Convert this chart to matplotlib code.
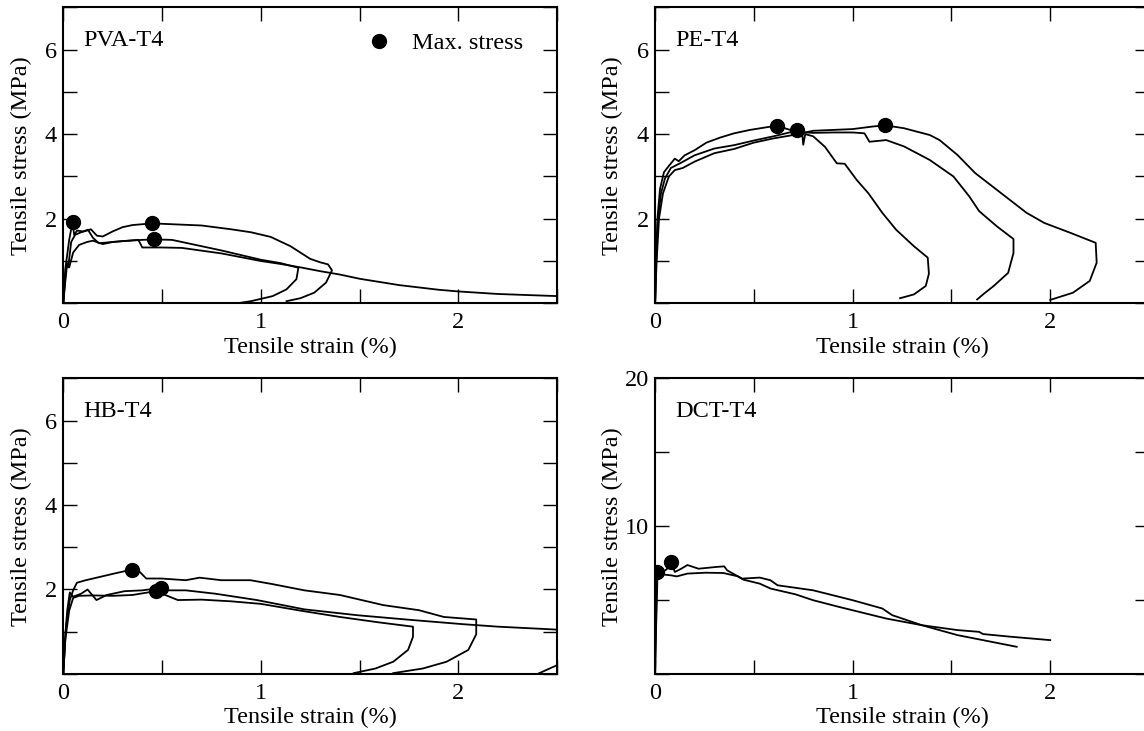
"""
Tensile stress-strain curves for the four T4 specimen series
"""

import numpy as np
import matplotlib.pyplot as plt
from matplotlib import rcParams
from matplotlib.ticker import MultipleLocator, FuncFormatter

rcParams["font.family"] = ["Liberation Serif", "DejaVu Serif"]
rcParams["font.size"] = 17.5
rcParams["axes.linewidth"] = 1.5
rcParams["lines.linewidth"] = 1.3
rcParams["xtick.direction"] = "in"
rcParams["ytick.direction"] = "in"
rcParams["xtick.top"] = True
rcParams["ytick.right"] = True
rcParams["xtick.major.size"] = 10
rcParams["ytick.major.size"] = 10
rcParams["xtick.major.width"] = 1.0
rcParams["ytick.major.width"] = 1.0
rcParams["xtick.major.pad"] = 6.5
rcParams["ytick.major.pad"] = 4.5

# ---- PVA-T4 ----
pva_strain_1 = [0, 0.01, 0.03, 0.047, 0.055, 0.07, 0.1, 0.125, 0.15, 0.18, 0.25,
                0.3, 0.38, 0.40, 0.5, 0.6, 0.8, 1.0, 1.1, 1.2, 1.3, 1.4, 1.5,
                1.7, 1.9, 2.0, 2.2, 2.5]
pva_stress_1 = [0, 0.8, 1.5, 1.93, 1.62, 1.72, 1.70, 1.74, 1.55, 1.42, 1.45,
                1.47, 1.50, 1.32, 1.32, 1.31, 1.18, 1.0, 0.93, 0.85, 0.76, 0.68,
                0.58, 0.43, 0.32, 0.28, 0.22, 0.17]
pva_strain_2 = [0, 0.015, 0.025, 0.04, 0.06, 0.09, 0.12, 0.14, 0.17, 0.2, 0.25,
                0.3, 0.35, 0.45, 0.55, 0.7, 0.85, 0.95, 1.05, 1.15, 1.2, 1.25,
                1.3, 1.34, 1.36, 1.33, 1.27, 1.2, 1.13]
pva_stress_2 = [0, 0.9, 0.85, 1.45, 1.62, 1.68, 1.72, 1.75, 1.6, 1.58, 1.7,
                1.8, 1.85, 1.89, 1.87, 1.84, 1.75, 1.68, 1.57, 1.35, 1.2, 1.05,
                0.97, 0.92, 0.78, 0.49, 0.25, 0.12, 0.05]
pva_strain_3 = [0, 0.01, 0.02, 0.03, 0.05, 0.08, 0.12, 0.15, 0.2, 0.25, 0.3,
                0.4, 0.46, 0.55, 0.65, 0.8, 1.0, 1.1, 1.19, 1.18, 1.13, 1.06,
                0.95, 0.88]
pva_stress_3 = [0, 0.5, 0.95, 0.85, 1.2, 1.38, 1.45, 1.48, 1.4, 1.45, 1.47,
                1.5, 1.51, 1.5, 1.4, 1.25, 1.03, 0.95, 0.84, 0.57, 0.33, 0.17,
                0.05, 0.0]

# ---- PE-T4 ----
pe_strain_1 = [0, 0.005, 0.012, 0.025, 0.045, 0.07, 0.1, 0.12, 0.15, 0.2, 0.26,
               0.33, 0.4, 0.48, 0.56, 0.616, 0.67, 0.72, 0.8, 0.9, 1.0, 1.06,
               1.085, 1.17, 1.26, 1.39, 1.51, 1.59, 1.64, 1.73, 1.814, 1.814,
               1.787, 1.714, 1.66, 1.63]
pe_stress_1 = [0, 1.0, 2.0, 2.7, 3.1, 3.25, 3.42, 3.36, 3.5, 3.62, 3.8,
               3.92, 4.02, 4.1, 4.16, 4.20, 4.12, 4.05, 4.03, 4.04, 4.04, 4.02,
               3.82, 3.86, 3.71, 3.39, 3.0, 2.53, 2.18, 1.82, 1.52, 1.19,
               0.72, 0.41, 0.21, 0.09]
pe_strain_2 = [0, 0.006, 0.015, 0.03, 0.05, 0.08, 0.13, 0.2, 0.3, 0.4, 0.5,
               0.6, 0.68, 0.72, 0.745, 0.75, 0.76, 0.8, 0.86, 0.92, 0.96, 1.02,
               1.08, 1.15, 1.22, 1.31, 1.38, 1.386, 1.37, 1.31, 1.24]
pe_stress_2 = [0, 1.0, 2.0, 2.6, 2.95, 3.2, 3.32, 3.5, 3.66, 3.74, 3.85,
               3.95, 4.04, 4.10, 4.0, 3.75, 4.0, 3.95, 3.7, 3.31, 3.30, 2.92,
               2.6, 2.14, 1.74, 1.35, 1.08, 0.7, 0.41, 0.21, 0.12]
pe_strain_3 = [0, 0.008, 0.02, 0.04, 0.07, 0.1, 0.14, 0.2, 0.3, 0.4, 0.5,
               0.6, 0.7, 0.8, 0.9, 1.0, 1.05, 1.1, 1.164, 1.26, 1.39, 1.44,
               1.53, 1.62, 1.75, 1.88, 1.97, 2.1, 2.23, 2.235, 2.2, 2.115, 2.0]
pe_stress_3 = [0, 1.0, 2.0, 2.6, 3.0, 3.15, 3.2, 3.35, 3.55, 3.65, 3.8,
               3.9, 3.98, 4.08, 4.1, 4.12, 4.15, 4.18, 4.21, 4.14, 3.98, 3.86,
               3.51, 3.08, 2.61, 2.14, 1.9, 1.67, 1.43, 0.96, 0.53, 0.25, 0.08]

# ---- HB-T4 ----
hb_strain_1 = [0, 0.014, 0.033, 0.05, 0.069, 0.114, 0.187, 0.26, 0.346, 0.38,
               0.42, 0.495, 0.62, 0.69, 0.8, 0.947, 1.056, 1.22, 1.4, 1.62,
               1.8, 1.926, 2.09, 2.09, 2.05, 1.94, 1.82, 1.67]
hb_stress_1 = [0, 1.12, 1.75, 1.98, 2.16, 2.22, 2.30, 2.38, 2.47, 2.45,
               2.26, 2.26, 2.22, 2.28, 2.22, 2.22, 2.13, 1.98, 1.87, 1.63,
               1.51, 1.35, 1.29, 0.94, 0.57, 0.29, 0.13, 0.02]
hb_strain_2 = [0, 0.01, 0.02, 0.033, 0.05, 0.09, 0.123, 0.168, 0.22, 0.31, 0.4,
               0.495, 0.53, 0.62, 0.77, 0.98, 1.22, 1.49, 1.76, 2.02, 2.2,
               2.5, 2.62, 2.63, 2.6, 2.5, 2.4]
hb_stress_2 = [0, 0.9, 1.5, 1.93, 1.83, 1.9, 2.0, 1.75, 1.87, 1.96, 1.98,
               2.04, 1.98, 1.98, 1.9, 1.75, 1.53, 1.39, 1.28, 1.18, 1.12,
               1.05, 0.98, 0.7, 0.45, 0.21, 0.0]
hb_strain_3 = [0, 0.01, 0.03, 0.05, 0.08, 0.15, 0.25, 0.35, 0.467, 0.5, 0.58,
               0.7, 0.85, 1.0, 1.2, 1.4, 1.6, 1.77, 1.77, 1.745, 1.67, 1.58,
               1.47]
hb_stress_3 = [0, 0.8, 1.5, 1.8, 1.85, 1.86, 1.85, 1.87, 1.96, 1.9, 1.75,
               1.76, 1.72, 1.66, 1.5, 1.35, 1.22, 1.12, 0.88, 0.57, 0.29, 0.13,
               0.02]

# ---- DCT-T4 ----
dct_strain_1 = [0, 0.004, 0.009, 0.03, 0.06, 0.082, 0.11, 0.164, 0.255, 0.346,
                0.42, 0.447, 0.53, 0.584, 0.71, 0.80, 0.93, 1.0, 1.17, 1.35,
                1.53, 1.64, 1.66, 1.80, 2.0]
dct_stress_1 = [0, 3.0, 6.9, 6.75, 6.7, 6.67, 6.6, 6.79, 6.85, 6.83,
                6.6, 6.38, 6.11, 5.78, 5.39, 4.99, 4.54, 4.31, 3.75, 3.30,
                2.97, 2.85, 2.70, 2.52, 2.29]
dct_strain_2 = [0, 0.005, 0.012, 0.03, 0.06, 0.082, 0.1, 0.13, 0.164, 0.22,
                0.31, 0.35, 0.365, 0.44, 0.53, 0.584, 0.62, 0.8, 1.0, 1.15,
                1.2, 1.35, 1.53, 1.83]
dct_stress_2 = [0, 3.0, 6.5, 6.8, 7.1, 7.57, 6.9, 7.1, 7.37, 7.12,
                7.24, 7.28, 7.01, 6.45, 6.52, 6.34, 6.0, 5.66, 4.99, 4.43,
                3.98, 3.3, 2.63, 1.84]

panels = [
    ("PVA-T4", [(pva_strain_1, pva_stress_1), (pva_strain_2, pva_stress_2),
                (pva_strain_3, pva_stress_3)], 7, 1, 2),
    ("PE-T4", [(pe_strain_1, pe_stress_1), (pe_strain_2, pe_stress_2),
               (pe_strain_3, pe_stress_3)], 7, 1, 2),
    ("HB-T4", [(hb_strain_1, hb_stress_1), (hb_strain_2, hb_stress_2),
               (hb_strain_3, hb_stress_3)], 7, 1, 2),
    ("DCT-T4", [(dct_strain_1, dct_stress_1), (dct_strain_2, dct_stress_2)],
     20, 5, 10),
]

fig = plt.figure(figsize=(11.44, 7.31), dpi=100)
w, h = 0.4318, 0.4049
positions = [
    [0.0553, 0.5851, w, h],
    [0.5726, 0.5851, w, h],
    [0.0553, 0.0780, w, 0.4045],
    [0.5726, 0.0780, w, 0.4045],
]


def every(step):
    def fmt(val, _pos):
        if val > 1e-9 and abs(val / step - round(val / step)) < 1e-6:
            return f"{val:g}"
        return ""
    return FuncFormatter(fmt)


def x_fmt(val, _pos):
    if abs(val - round(val)) < 1e-6:
        return f"{round(val):d}"
    return ""


for (name, curves, ymax, ystep, ylab), pos in zip(panels, positions):
    ax = fig.add_axes(pos)
    for i, (strain, stress) in enumerate(curves):
        strain = np.asarray(strain)
        stress = np.asarray(stress)
        ax.plot(strain, stress, color="black", zorder=2)
        k = np.argmax(stress)
        ax.plot(strain[k], stress[k], "o", color="black", markersize=10,
                zorder=3, label="Max. stress" if i == 0 else None)

    ax.set_xlim(0, 2.5)
    ax.set_ylim(0, ymax)
    ax.xaxis.set_major_locator(MultipleLocator(0.5))
    ax.xaxis.set_major_formatter(FuncFormatter(x_fmt))
    ax.yaxis.set_major_locator(MultipleLocator(ystep))
    ax.yaxis.set_major_formatter(every(ylab))

    ax.set_xlabel("Tensile strain (%)")
    ax.set_ylabel("Tensile stress (MPa)")
    ax.xaxis.set_label_coords(0.5, -0.112)
    ax.yaxis.set_label_coords(-0.064, 0.5)

    ax.text(0.04, 0.868, name, transform=ax.transAxes, va="baseline")

    if name == "PVA-T4":
        ax.legend(loc="center left", bbox_to_anchor=(0.6155, 0.879),
                  frameon=False, borderpad=0, borderaxespad=0,
                  handlelength=1.0, handletextpad=0.84, numpoints=1)

plt.savefig("out.png", dpi=100)
